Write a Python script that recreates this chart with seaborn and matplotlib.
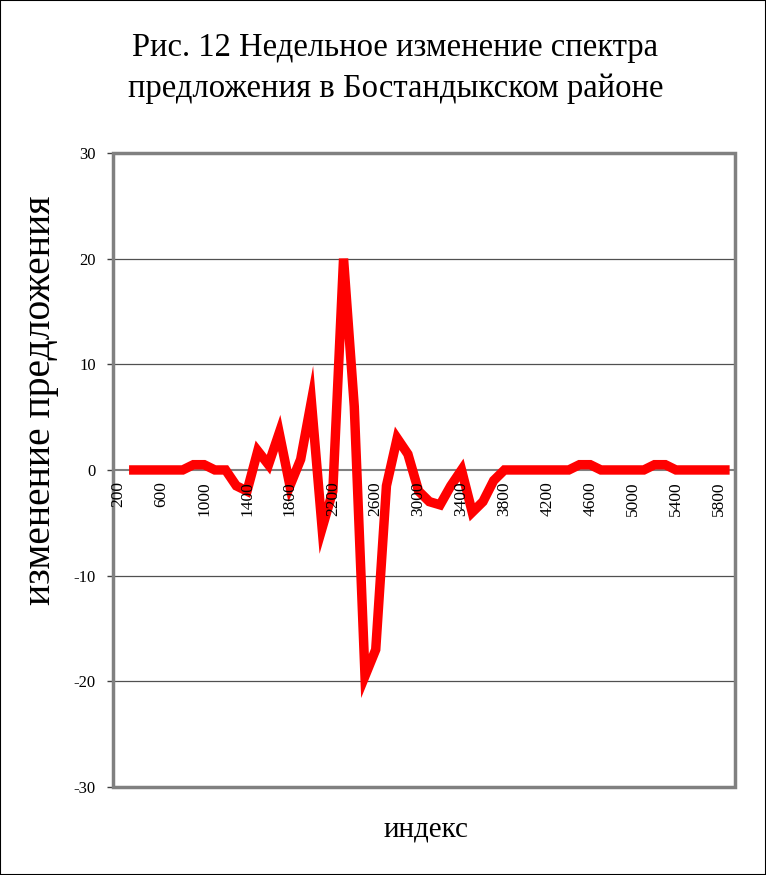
"""Weekly change of offer spectrum, Bostandyk district (Excel-style line chart)."""
import numpy as np
import pandas as pd
import matplotlib
matplotlib.use('Agg')
import matplotlib.pyplot as plt
from matplotlib.patches import Rectangle
from matplotlib.ticker import FixedLocator, MultipleLocator, NullLocator
import seaborn as sns

# categories (index) 200..5900, step 100; first one has no value
index_cats = [200, 300, 400, 500, 600, 700, 800, 900, 1000, 1100,
              1200, 1300, 1400, 1500, 1600, 1700, 1800, 1900, 2000, 2100,
              2200, 2300, 2400, 2500, 2600, 2700, 2800, 2900, 3000, 3100,
              3200, 3300, 3400, 3500, 3600, 3700, 3800, 3900, 4000, 4100,
              4200, 4300, 4400, 4500, 4600, 4700, 4800, 4900, 5000, 5100,
              5200, 5300, 5400, 5500, 5600, 5700, 5800, 5900]
change = [np.nan, 0, 0, 0, 0, 0, 0, 0.5, 0.5, 0,
          0, -1.5, -2, 1.8, 0.5, 3.5, -1.5, 1, 6.5, -5.5,
          -2, 20, 6, -19.5, -17, -1.5, 3, 1.5, -2, -3,
          -3.3, -1.5, 0, -4, -3, -1, 0, 0, 0, 0,
          0, 0, 0, 0.5, 0.5, 0, 0, 0, 0, 0,
          0.5, 0.5, 0, 0, 0, 0, 0, 0]
x_labels = [200, 600, 1000, 1400, 1800, 2200, 2600, 3000, 3400, 3800,
            4200, 4600, 5000, 5400, 5800]
y_ticks = [-30, -20, -10, 0, 10, 20, 30]
grid_levels = [-20, -10, 10, 20]

title = 'Рис. 12 Недельное изменение спектра\nпредложения в Бостандыкском районе'
xlabel = 'индекс'
ylabel = 'изменение предложения'

df = pd.DataFrame({'index': index_cats, 'change': change})

sns.set_style('white')
plt.rcParams['font.family'] = ['Liberation Serif', 'DejaVu Serif']
plt.rcParams['text.color'] = 'black'

fig = plt.figure(figsize=(7.66, 8.75), dpi=100)
rect = [0.1475, 0.1006, 0.812, 0.7246]
ax = fig.add_axes(rect)

for g in grid_levels:
    ax.axhline(g, color='#505050', linewidth=0.9, zorder=1)

sns.lineplot(data=df, x='index', y='change', color='#ff0000',
             linewidth=6.8, ax=ax, zorder=3)
line = ax.lines[-1]
line.set_solid_joinstyle('miter')
line.set_solid_capstyle('butt')

ax.set_xlim(150, 5950)
ax.set_ylim(-30, 30)
ax.set_axisbelow(True)

# category axis through zero, plot area border in grey
for side in ['left', 'right', 'top']:
    ax.spines[side].set_visible(False)
ax.spines['bottom'].set_position(('data', 0))
ax.spines['bottom'].set_color('#808080')
ax.spines['bottom'].set_linewidth(1.5)
ax.spines['bottom'].set_zorder(1)
ax.add_patch(Rectangle((0, 0), 1, 1, transform=ax.transAxes, fill=False,
                       edgecolor='#808080', linewidth=2.5, clip_on=False,
                       zorder=5))

ax.xaxis.set_major_locator(NullLocator())
ax.xaxis.set_minor_locator(MultipleLocator(100, offset=50))
ax.tick_params(axis='x', which='minor', length=4.5, direction='out',
               color='#404040', width=1)
ax.set_yticks(y_ticks)
ax.set_yticklabels([str(v) for v in y_ticks], fontsize=12)
ax.tick_params(axis='y', length=4.5, direction='out', color='#404040',
               width=1, pad=8, left=True, labelcolor='black')
ax.set_xlabel('')
ax.set_ylabel('')

# overlay axes so that category labels sit on top of the red line
ax2 = fig.add_axes(rect)
ax2.patch.set_visible(False)
ax2.set_xlim(150, 5950)
ax2.set_ylim(-30, 30)
for side in ['left', 'right', 'top', 'bottom']:
    ax2.spines[side].set_visible(False)
ax2.spines['bottom'].set_position(('data', 0))
ax2.xaxis.set_major_locator(FixedLocator(x_labels))
ax2.set_xticklabels([str(v) for v in x_labels], rotation=90, fontsize=12.5)
ax2.tick_params(axis='x', length=0, pad=8, labelcolor='black')
ax2.tick_params(axis='y', left=False, labelleft=False)

fig.text(0.516, 0.922, title, ha='center', va='center', fontsize=23.5,
         linespacing=1.45)
fig.text(0.0535, 0.543, ylabel, ha='center', va='center', rotation=90,
         fontsize=28.5)
fig.text(0.556, 0.052, xlabel, ha='center', va='center', fontsize=21)

fig.patches.append(Rectangle((0, 0), 1, 1, transform=fig.transFigure,
                             fill=False, edgecolor='black', linewidth=1.5))

fig.savefig('out.png', dpi=100)
